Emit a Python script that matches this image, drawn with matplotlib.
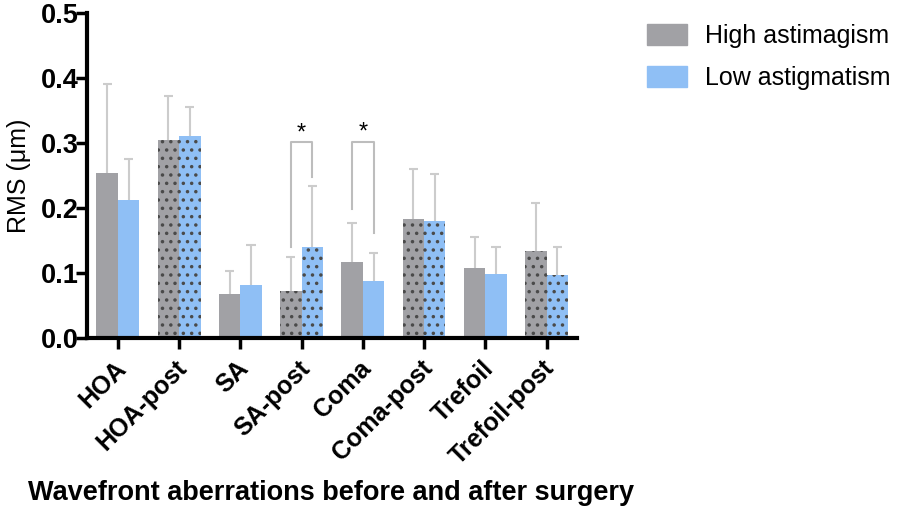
import numpy as np
import matplotlib
matplotlib.use('Agg')
import matplotlib.pyplot as plt
import matplotlib.transforms as mtransforms
from matplotlib.patches import Patch

plt.rcParams['font.family'] = ['Liberation Sans', 'DejaVu Sans']
plt.rcParams['hatch.linewidth'] = 1.3

# Data
categories = ['HOA', 'HOA-post', 'SA', 'SA-post', 'Coma', 'Coma-post', 'Trefoil', 'Trefoil-post']
high_mean = [0.254, 0.304, 0.068, 0.073, 0.117, 0.183, 0.107, 0.134]
high_sd = [0.137, 0.069, 0.035, 0.051, 0.060, 0.077, 0.049, 0.073]
low_mean = [0.212, 0.311, 0.081, 0.140, 0.087, 0.180, 0.098, 0.097]
low_sd = [0.064, 0.044, 0.062, 0.094, 0.044, 0.072, 0.042, 0.043]
post_flags = [False, True, False, True, False, True, False, True]

# significance brackets: (category index, top, left leg bottom, right leg bottom)
brackets = [(3, 0.301, 0.140, 0.248), (4, 0.302, 0.198, 0.162)]

gray = '#a1a1a5'
blue = '#8fbff5'
err_col = '#cccccc'

fig = plt.figure(figsize=(8.99, 5.18), dpi=100)
ax = fig.add_axes([0.097, 0.3475, 0.545, 0.6275])

x = np.arange(len(categories))
w = 0.35
cap = 0.075

for i in range(len(categories)):
    hatch = '..' if post_flags[i] else None
    ax.bar(x[i] - w / 2, high_mean[i], w, color=gray, edgecolor='#4a4a4a', linewidth=0, hatch=hatch, zorder=2)
    ax.bar(x[i] + w / 2, low_mean[i], w, color=blue, edgecolor='#4a4a4a', linewidth=0, hatch=hatch, zorder=2)

# upward-only error bars
for xs, m, s in [(x - w / 2, high_mean, high_sd), (x + w / 2, low_mean, low_sd)]:
    tops = np.array(m) + np.array(s)
    ax.vlines(xs, m, tops, color=err_col, lw=1.5, zorder=1)
    ax.hlines(tops, xs - cap, xs + cap, color=err_col, lw=1.5, zorder=1)

for idx, top, lb, rb in brackets:
    xl, xr = idx - w / 2, idx + w / 2
    ax.plot([xl, xl, xr, xr], [lb, top, top, rb], color='#bdbdbd', lw=1.5)
    ax.text(idx, top - 0.003, '*', ha='center', va='bottom', fontsize=17)

ax.set_xlim(-0.5, 7.5)
ax.set_ylim(0, 0.5)
ax.set_yticks([0.0, 0.1, 0.2, 0.3, 0.4, 0.5])
ax.set_yticklabels(['0.0', '0.1', '0.2', '0.3', '0.4', '0.5'], fontsize=19.5, fontweight='bold')
ax.set_xticks(x)
ax.set_xticklabels(categories, rotation=45, ha='right', rotation_mode='anchor',
                   fontsize=18, fontweight='bold')
ax.tick_params(axis='both', width=2.5, length=8, color='black')
ax.tick_params(axis='x', pad=5)
ax.tick_params(axis='y', pad=-2)

shift = mtransforms.ScaledTranslation(-4 / 100, 0, fig.dpi_scale_trans)
for lab in ax.get_xticklabels():
    lab.set_transform(lab.get_transform() + shift)

for s in ['top', 'right']:
    ax.spines[s].set_visible(False)
for s in ['left', 'bottom']:
    ax.spines[s].set_linewidth(3)

ax.set_ylabel('RMS (μm)', fontsize=18)
ax.yaxis.set_label_coords(-0.114, 0.5)
fig.text(0.031, 0.048, 'Wavefront aberrations before and after surgery', fontsize=19.5,
         fontweight='bold', ha='left', va='center')

handles = [Patch(color=gray, label='High astimagism'), Patch(color=blue, label='Low astigmatism')]
fig.legend(handles=handles, loc='upper left', bbox_to_anchor=(0.72, 0.953), frameon=False,
           fontsize=18, handlelength=1.6, handleheight=0.9, handletextpad=0.72,
           labelspacing=0.72, borderpad=0, borderaxespad=0)

fig.savefig('out.png', dpi=100)
